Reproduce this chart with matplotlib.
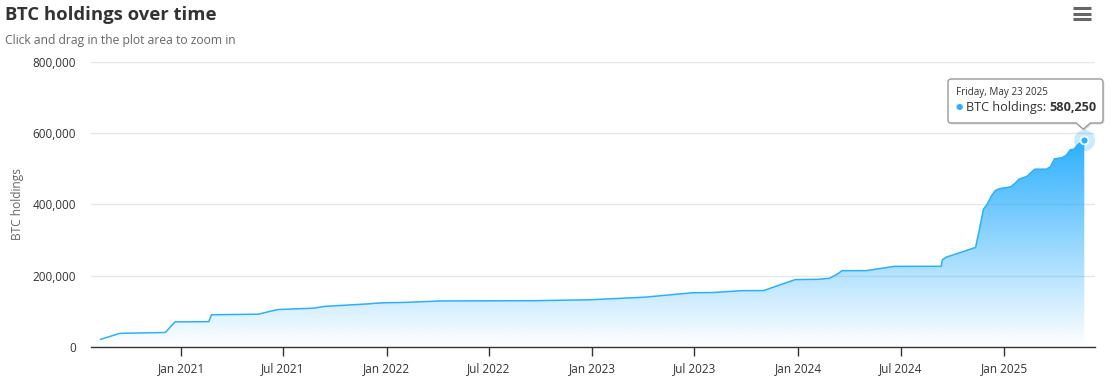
import numpy as np
import pandas as pd
import matplotlib
matplotlib.use("Agg")
import matplotlib.pyplot as plt
import matplotlib.dates as mdates
from matplotlib.patches import Polygon
from matplotlib.ticker import FuncFormatter

plt.rcParams["font.family"] = ["Open Sans", "DejaVu Sans"]

# ── data ──
dates = [
    "2020-08-11", "2020-09-14", "2020-12-04", "2020-12-21", "2021-02-19",
    "2021-02-24", "2021-05-18", "2021-06-21", "2021-08-24", "2021-09-13",
    "2021-11-29", "2021-12-09", "2021-12-30", "2022-02-01", "2022-04-05",
    "2022-06-29", "2022-09-20", "2022-12-27", "2023-04-05", "2023-06-28",
    "2023-08-01", "2023-09-25", "2023-11-01", "2023-11-30", "2023-12-27",
    "2024-02-06", "2024-02-26", "2024-03-11", "2024-03-19", "2024-05-01",
    "2024-06-20", "2024-08-01", "2024-09-11", "2024-09-13", "2024-09-20",
    "2024-11-11", "2024-11-18", "2024-11-25", "2024-12-02", "2024-12-09",
    "2024-12-16", "2024-12-23", "2024-12-30", "2025-01-06", "2025-01-13",
    "2025-01-21", "2025-01-27", "2025-02-10", "2025-02-24", "2025-03-17",
    "2025-03-24", "2025-03-31", "2025-04-14", "2025-04-21", "2025-04-28",
    "2025-05-05", "2025-05-12", "2025-05-19", "2025-05-23",
]
holdings = [
    21454, 38250, 40824, 70470, 71079,
    90531, 92079, 105085, 108992, 114042,
    121044, 122478, 124391, 125051, 129218,
    129699, 130000, 132500, 140000, 152333,
    152800, 158245, 158400, 174530, 189150,
    190000, 193000, 205000, 214246, 214400,
    226331, 226500, 226500, 244800, 252220,
    279420, 331200, 386700, 402100, 423650,
    439000, 444262, 446400, 447470, 450000,
    461000, 471107, 478740, 499096, 499226,
    506137, 528185, 531644, 538200, 553555,
    555450, 568840, 576230, 580250,
]
y_ticks = [0, 200000, 400000, 600000, 800000]

x = mdates.date2num(pd.to_datetime(dates))
y = np.array(holdings, dtype=float)

W, H = 1118, 383
line_color = "#2caffe"

fig = plt.figure(figsize=(W / 100, H / 100), dpi=100)
ax = fig.add_axes([91 / W, 1 - 347 / H, (1095 - 91) / W, (347 - 62) / H])

# gradient area under the line
poly = ax.fill_between(x, 0, y, color="none", lw=0)
grad = np.zeros((256, 1, 4))
c = matplotlib.colors.to_rgb(line_color)
grad[:, 0, 0], grad[:, 0, 1], grad[:, 0, 2] = c
grad[:, 0, 3] = np.linspace(0.0, 1.0, 256)
img = ax.imshow(grad, extent=[x.min(), x.max(), 0, y.max()], origin="lower",
                aspect="auto", zorder=1, interpolation="bilinear")
img.set_clip_path(poly.get_paths()[0], transform=ax.transData)
ax.plot(x, y, color=line_color, lw=1.1, zorder=3)

# last point with halo
ax.scatter([x[-1]], [y[-1]], s=230, color=line_color, alpha=0.25, lw=0, zorder=4)
ax.scatter([x[-1]], [y[-1]], s=32, color=line_color, edgecolor="white", lw=1.2, zorder=5)

ax.set_xlim(mdates.date2num(pd.Timestamp("2020-07-25")),
            mdates.date2num(pd.Timestamp("2025-06-11")))
ax.set_ylim(0, 800000)
ax.set_yticks(y_ticks)
ax.yaxis.set_major_formatter(FuncFormatter(lambda v, p: f"{int(v):,}"))
ax.xaxis.set_major_locator(mdates.MonthLocator(bymonth=[1, 7]))
ax.xaxis.set_major_formatter(mdates.DateFormatter("%b %Y"))

ax.grid(axis="y", color="#e6e6e6", lw=1)
ax.set_axisbelow(True)
for s in ["top", "right", "left"]:
    ax.spines[s].set_visible(False)
ax.spines["bottom"].set_color("#333333")
ax.spines["bottom"].set_linewidth(1)
ax.tick_params(axis="y", length=0, pad=11, labelsize=8.5, labelcolor="#333333")
ax.tick_params(axis="x", length=6.5, width=1, color="#333333", pad=4,
               labelsize=8.5, labelcolor="#333333")
ax.set_ylabel("BTC holdings", fontsize=8.6, color="#666666", labelpad=0)
ax.yaxis.set_label_coords(-(91 - 24) / (1095 - 91), 0.5)
ax.patch.set_alpha(0)

# titles
fig.text(5 / W, 1 - 20 / H, "BTC holdings over time", fontsize=13.3,
         fontweight="bold", color="#333333", va="baseline")
fig.text(5 / W, 1 - 44 / H, "Click and drag in the plot area to zoom in",
         fontsize=8.7, color="#666666", va="baseline")

# overlay in pixel coordinates for menu icon and tooltip
ov = fig.add_axes([0, 0, 1, 1], zorder=10)
ov.set_xlim(0, W)
ov.set_ylim(H, 0)
ov.axis("off")
ov.patch.set_alpha(0)

for yy in [8, 13.5, 19]:
    ov.plot([1073, 1091], [yy, yy], color="#666666", lw=2.2, solid_capstyle="butt")

# tooltip anchored to the last point
px, py = ax.transData.transform((x[-1], y[-1]))
py = H - py
bx0, bx1, by0, by1 = 948, 1103, 79, 123


def callout(x0, x1, y0, y1, r, tip):
    pts = []
    for cx, cy, a0 in [(x1 - r, y0 + r, -90), (x1 - r, y1 - r, 0),
                       (x0 + r, y1 - r, 90), (x0 + r, y0 + r, 180)]:
        if a0 == 90:
            pts += [(tip[0] + 7, y1), (tip[0], tip[1]), (tip[0] - 7, y1)]
        for a in np.linspace(a0, a0 + 90, 6):
            pts.append((cx + r * np.cos(np.radians(a)), cy + r * np.sin(np.radians(a))))
    return pts


tip = (px - 1, py - 11)
shadow = Polygon([(a + 1.5, b + 1.5) for a, b in callout(bx0, bx1, by0, by1, 3, tip)],
                 closed=True, facecolor="#000000", alpha=0.12, lw=0)
ov.add_patch(shadow)
box = Polygon(callout(bx0, bx1, by0, by1, 3, tip), closed=True,
              facecolor="white", edgecolor="#999999", lw=1)
ov.add_patch(box)

ov.text(956, 93, "Friday, May 23 2025", fontsize=7.1, color="#333333", va="center")
ov.text(956, 108, "\u25cf", fontsize=6, color=line_color, va="center")
t1 = ov.text(966, 107.5, "BTC holdings: ", fontsize=9.1, color="#333333", va="center")
fig.canvas.draw()
bb = t1.get_window_extent()
xr = ov.transData.inverted().transform((bb.x1, bb.y0))[0]
ov.text(xr, 107.5, "580,250", fontsize=9.1, color="#333333", va="center",
        fontweight="bold")

fig.savefig("out.png", dpi=100)
